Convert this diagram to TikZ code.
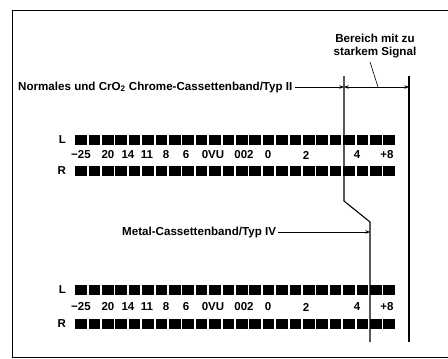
\documentclass[tikz,border=0pt]{standalone}
\usepackage{fontspec}
\setmainfont{Liberation Sans}
\usetikzlibrary{arrows.meta, positioning, calc}

\newcommand{\scalelist}{81/{\textminus25},108/20,128/14,147/11,166/8,186/6,213/0VU,244/002,268/0,306/2,357/4,387/+8}

\begin{document}
\begin{tikzpicture}[x=1pt, y=-1pt,
    seg/.style={fill=black, minimum width=11.5pt, minimum height=10.5pt, inner sep=0pt},
    scl/.style={font=\fontsize{11.5}{13}\selectfont\bfseries, inner sep=0pt},
    lbl/.style={font=\fontsize{11.6}{13}\selectfont\bfseries, inner sep=0pt},
    levelline/.style={line width=1.1pt},
    arr/.style={-{Stealth[length=4.5pt, width=3.5pt]}, line width=0.6pt},
    dim/.style={{Stealth[length=4.5pt, width=3.5pt]}-{Stealth[length=4.5pt, width=3.5pt]}, line width=0.6pt},
]
\useasboundingbox (0,0) rectangle (448,359);
% frame
\draw[line width=0.9pt] (448,10) -- (12,10) -- (12,357) -- (448,357);

% meter rows
\foreach \i in {0,...,23} {
  \node[seg] (ul\i) at ({81+13.4*\i},140) {};
  \node[seg] (ur\i) at ({81+13.4*\i},171) {};
  \node[seg] (ll\i) at ({81+13.4*\i},290) {};
  \node[seg] (lr\i) at ({81+13.4*\i},324) {};
}
\node[scl, left=9pt of ul0] (uL) {L};
\node[scl, left=9pt of ur0] (uR) {R};
\node[scl, left=9pt of ll0] (lL) {L};
\node[scl, left=9pt of lr0] (lR) {R};
\foreach \x/\t in \scalelist {
  \node[scl] at (\x,155) {\t};
  \node[scl] at (\x,307) {\t};
}

% limit lines
\coordinate (ltop) at (344,76);
\coordinate (lbend) at (344,201);
\coordinate (lknee) at (370,222);
\coordinate (lbot) at (370,342);
\coordinate (rtop) at (409,76);
\coordinate (rbot) at (409,342);
\draw[levelline] (ltop) -- (lbend) -- (lknee) -- (lbot);
\draw[levelline] (rtop) -- (rbot);

% labels
\node[lbl, anchor=west] (typ2) at (18,87) {Normales und CrO\textsubscript{2} Chrome-Cassettenband/Typ II};
\node[lbl, anchor=west] (typ4) at (122,232) {Metal-Cassettenband/Typ IV};
\node[lbl, align=center] (zuviel) at (375,46) {Bereich mit zu\\starkem Signal};

\draw[arr] (typ2.east) ++(2,0) -- (typ2.east -| ltop);
\draw[dim] (typ2.east -| ltop) -- (typ2.east -| rtop);
\coordinate (lead) at (370,62);
\draw[line width=0.6pt] (lead) -- ($(lead |- typ2.east)+(8,0)$);
\draw[arr] (typ4.east) ++(2,0) -- (typ4.east -| lbot);
\end{tikzpicture}
\end{document}
